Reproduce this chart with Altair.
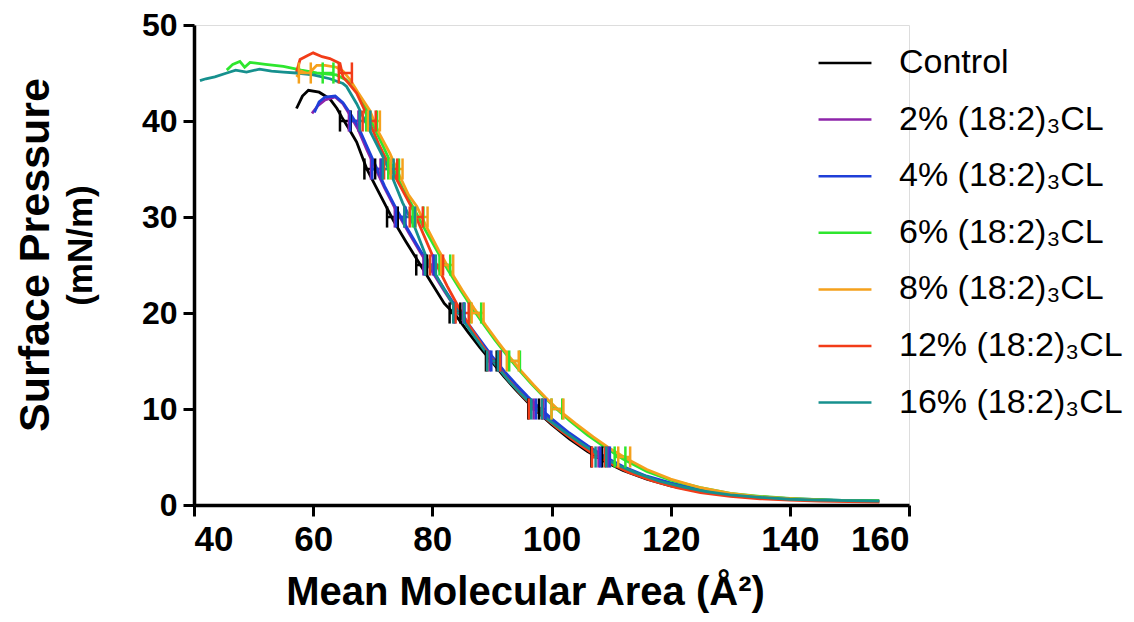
import altair as alt
import pandas as pd

FONT = "Liberation Sans, Arial, sans-serif"

SERIES = ["Control", "2% (18:2)₃CL", "4% (18:2)₃CL", "6% (18:2)₃CL",
          "8% (18:2)₃CL", "12% (18:2)₃CL", "16% (18:2)₃CL"]
COLORS = ["#000000", "#8e24aa", "#1f3fd8", "#2ee62e", "#f5a11c", "#f23c18", "#16908e"]

# ---- isotherm curves: mean molecular area (Å²) vs surface pressure (mN/m)
control_x = [57.2, 58.2, 59.2, 61, 62.8, 64, 64.8, 66, 67.3, 69, 70.5, 72, 73.5, 75.5, 78, 80, 82, 84, 86, 88,
             90, 92, 94, 96, 98, 100, 103, 106, 109, 112, 116, 120, 125, 130, 135, 140, 145, 150, 155]
control_y = [41.3, 42.6, 43.2, 43, 42.3, 41.3, 40.4, 39.2, 37.8, 35, 33.2, 31.4, 29.6, 27.5, 25, 23, 21, 19.7, 18, 16.4,
             14.9, 13.4, 12, 10.7, 9.5, 8.4, 6.9, 5.6, 4.5, 3.6, 2.7, 2.0, 1.4, 1.0, 0.75, 0.6, 0.5, 0.45, 0.4]

p2_x = [59.8, 60.8, 62, 63.7, 65, 66.2, 67.5, 69, 70.5, 72, 74, 76, 78, 80, 82, 84, 86, 88, 90, 92, 94, 96, 98,
        100, 103, 106, 109, 112, 116, 120, 125, 130, 135, 140, 145, 150, 155]
p2_y = [40.8, 41.6, 42.2, 42.5, 41.8, 40.6, 39.2, 37, 35, 33, 30.6, 28.4, 26.3, 24.3, 22.3, 20.4, 18.7, 17, 15.3,
        13.8, 12.4, 11.1, 9.9, 8.8, 7.3, 6.0, 4.9, 3.9, 2.9, 2.2, 1.5, 1.05, 0.8, 0.62, 0.5, 0.45, 0.4]

p4_x = [60.2, 61, 62, 63.7, 65, 66.2, 67.5, 69, 70.5, 72, 74, 76, 78, 80, 82, 84, 86, 88, 90, 92, 94, 96, 98,
        100, 103, 106, 109, 112, 116, 120, 125, 130, 135, 140, 145, 150, 155]
p4_y = [40.9, 42, 42.5, 42.6, 41.9, 40.8, 39.5, 37.4, 35.3, 33.2, 30.8, 28.6, 26.5, 24.5, 22.5, 20.6, 18.9, 17.2,
        15.5, 14, 12.6, 11.3, 10.1, 9.0, 7.5, 6.2, 5.0, 4.0, 3.0, 2.3, 1.6, 1.1, 0.85, 0.65, 0.55, 0.45, 0.4]

p6_x = [45.5, 46.5, 47.7, 48.5, 49.4, 52, 55, 58, 60.6, 63.9, 65.5, 66.7, 68, 69, 70.5, 71.8, 73.5, 75, 76.8,
        78.5, 80.5, 82.5, 84.5, 86.5, 88.5, 90.5, 92.5, 94.5, 96.5, 98.5, 100.5, 103, 106, 109, 112, 116, 120,
        125, 130, 135, 140, 145, 150, 155]
p6_y = [45.3, 45.9, 46.2, 45.6, 46.1, 45.9, 45.7, 45.3, 45.0, 44.8, 44.3, 43.6, 42.3, 41.1, 39, 37.3, 35, 33, 31,
        29, 26.8, 24.6, 22.6, 20.7, 18.9, 17.2, 15.6, 14.1, 12.7, 11.4, 10.2, 8.8, 7.3, 6.0, 4.8, 3.5, 2.6,
        1.8, 1.2, 0.9, 0.7, 0.55, 0.45, 0.45]

p8_x = [57.2, 58, 59.2, 60.6, 62, 63.9, 65, 66.2, 67.5, 69.5, 71, 72.9, 74.5, 76, 77.4, 79, 81, 83, 85, 87, 89,
        91, 93, 95, 97, 99, 101, 104, 107, 110, 113, 116, 120, 125, 130, 135, 140, 145, 150, 155]
p8_y = [44.6, 45.2, 44.9, 45.8, 45.8, 45.6, 45.2, 44.3, 43, 41.1, 38.8, 36.6, 34.3, 32.3, 31.1, 29, 26.6, 24.4,
        22.4, 20.5, 18.7, 17, 15.4, 13.9, 12.5, 11.2, 10, 8.5, 7.1, 5.8, 4.7, 3.7, 2.7, 1.8, 1.2, 0.85, 0.65,
        0.5, 0.4, 0.35]

p12_x = [57.2, 57.8, 59, 60, 61.5, 62.8, 64.5, 65, 66, 67.3, 68.5, 69.5, 71, 72.9, 74.8, 76.8, 78.5, 80.5, 82.5,
         84.5, 86.5, 88.5, 90.5, 92.5, 94.5, 96.5, 98.5, 101, 104, 107, 110, 113, 117, 121, 125, 130, 135, 140,
         145, 150, 155]
p12_y = [45.1, 46.4, 46.8, 47.1, 46.7, 46.5, 46, 44.6, 43.9, 42.9, 41.3, 39.8, 37.6, 35.2, 33, 30.7, 28.2, 25.3,
         22.8, 20.5, 18.4, 16.5, 14.8, 13.2, 11.8, 10.5, 9.3, 8.0, 6.6, 5.3, 4.3, 3.4, 2.5, 1.8, 1.3, 0.9, 0.65,
         0.5, 0.4, 0.35, 0.3]

p16_x = [41, 42, 43.5, 45.5, 47, 48.8, 51, 53, 55, 57.2, 60, 62.8, 65, 65.6, 67.3, 69.5, 71.7, 73.5, 75, 77, 79.2,
         81, 83, 85, 87, 89, 91, 93, 95, 97, 99, 102, 105, 108, 111, 114, 118, 122, 126, 130, 135, 140, 145,
         150, 155]
p16_y = [44.2, 44.4, 44.6, 45.0, 45.3, 45.1, 45.4, 45.2, 45.1, 45, 44.8, 44.4, 43.9, 43.6, 41.8, 39, 36.3, 33.8,
         31.5, 29, 25.5, 23.5, 21.4, 19.4, 17.6, 15.9, 14.3, 12.8, 11.5, 10.3, 9.1, 7.7, 6.4, 5.2, 4.2, 3.4, 2.5,
         1.9, 1.4, 1.05, 0.8, 0.6, 0.5, 0.45, 0.4]

CURVES_X = [control_x, p2_x, p4_x, p6_x, p8_x, p12_x, p16_x]
CURVES_Y = [control_y, p2_y, p4_y, p6_y, p8_y, p12_y, p16_y]

# ---- horizontal error bars (pressure level, mean area, half-width of the area error)
control_err_y = [40, 35, 30, 25, 20, 15, 10, 5]
control_err_x = [65.4, 69.5, 73.3, 78.2, 83.8, 89.9, 97.0, 107.6]
p2_err_y = [40, 35, 30, 25, 20, 15, 10, 5]
p2_err_x = [66.8, 70.5, 74.5, 79.3, 84.4, 90.4, 97.8, 108.7]
p4_err_y = [40, 35, 30, 25, 20, 15, 10, 5]
p4_err_x = [67.0, 70.7, 74.7, 79.5, 84.6, 90.7, 98.2, 109.0]
p6_err_y = [45, 40, 35, 30, 25, 20, 15, 10, 5]
p6_err_x = [62.5, 69.8, 73.5, 77.6, 82.1, 87.3, 93.8, 100.9, 111.5]
p8_err_y = [45, 40, 35, 30, 25, 20, 15, 10, 5]
p8_err_x = [58.6, 70.2, 74.0, 78.2, 82.5, 87.6, 93.5, 101.0, 112.2]
p12_err_y = [45, 40, 35, 30, 25, 20, 15, 10, 5]
p12_err_x = [65.4, 69.4, 73.0, 77.3, 80.7, 85.0, 90.3, 97.3, 107.9]
p16_err_y = [40, 35, 30, 25, 20, 15, 10, 5]
p16_err_x = [68.7, 72.6, 76.2, 79.7, 84.4, 90.1, 97.5, 108.3]
ERR_HALF = [0.9, 0.8, 0.8, 0.9, 1.0, 1.1, 0.9]
CAP_HALF = 1.1

ERR_Y = [control_err_y, p2_err_y, p4_err_y, p6_err_y, p8_err_y, p12_err_y, p16_err_y]
ERR_X = [control_err_x, p2_err_x, p4_err_x, p6_err_x, p8_err_x, p12_err_x, p16_err_x]

line_rows, err_rows, cap_rows = [], [], []
for s, name in enumerate(SERIES):
    for i, (xv, yv) in enumerate(zip(CURVES_X[s], CURVES_Y[s])):
        line_rows.append({"series": name, "area": xv, "pressure": yv, "idx": i})
    h = ERR_HALF[s]
    for yv, xv in zip(ERR_Y[s], ERR_X[s]):
        err_rows.append({"series": name, "lo": xv - h, "hi": xv + h, "pressure": yv})
        for cx in (xv - h, xv + h):
            cap_rows.append({"series": name, "area": cx, "ylo": yv - CAP_HALF, "yhi": yv + CAP_HALF})

lines_df = pd.DataFrame(line_rows)
err_df = pd.DataFrame(err_rows)
cap_df = pd.DataFrame(cap_rows)

xscale = alt.Scale(domain=[40, 160], nice=False, zero=False)
yscale = alt.Scale(domain=[0, 50], nice=False)
color_scale = alt.Scale(domain=SERIES, range=COLORS)

axis_common = dict(
    grid=False, domainColor="black", domainWidth=3.5, tickColor="black", tickWidth=3, tickSize=11,
    labelFont=FONT, labelFontWeight="bold", labelColor="black",
    titleFont=FONT, titleFontWeight="bold", titleColor="black",
)

x_axis = alt.Axis(values=[40, 60, 80, 100, 120, 140, 160], title="Mean Molecular Area (Å²)",
                  labelFontSize=35, titleFontSize=40, labelPadding=6, titlePadding=15, titleX=331,
                  **axis_common)
y_axis = alt.Axis(values=[0, 10, 20, 30, 40, 50], title="(mN/m)", labelFontSize=32, labelPadding=6,
                  titleFontSize=35, titleAngle=-90, titleX=-114, titleY=220,
                  titleAlign="center", titleBaseline="middle",
                  **axis_common)

legend = alt.Legend(
    title=None, orient="none", legendX=623, legendY=10, padding=0,
    symbolType="stroke", symbolSize=2800, symbolStrokeWidth=2.5, rowPadding=11.6,
    labelFont=FONT, labelFontSize=34, labelColor="black", labelOffset=26, labelLimit=400,
)

lines = alt.Chart(lines_df).mark_line(strokeWidth=2.8).encode(
    x=alt.X("area:Q", scale=xscale, axis=x_axis),
    y=alt.Y("pressure:Q", scale=yscale, axis=y_axis),
    color=alt.Color("series:N", scale=color_scale, sort=SERIES, legend=legend),
    order="idx:Q",
)

errs = alt.Chart(err_df).mark_rule(strokeWidth=2.5).encode(
    x="lo:Q", x2="hi:Q", y="pressure:Q",
    color=alt.Color("series:N", scale=color_scale, legend=None),
)

caps = alt.Chart(cap_df).mark_rule(strokeWidth=2.5).encode(
    x="area:Q", y="ylo:Q", y2="yhi:Q",
    color=alt.Color("series:N", scale=color_scale, legend=None),
)

y_title = alt.TitleParams(
    text="Surface Pressure", orient="left", anchor="middle",
    font=FONT, fontSize=43, fontWeight="bold", color="black",
    offset=5, dx=10,
)

chart = alt.layer(lines, errs, caps).properties(
    width=715, height=480, title=y_title,
    autosize=alt.AutoSizeParams(type="none"),
    padding={"left": 186, "top": 17, "right": 217, "bottom": 109},
).configure_view(stroke=None).configure(background="white")

chart.save("out.html", embed_options={"renderer": "svg", "actions": False})
